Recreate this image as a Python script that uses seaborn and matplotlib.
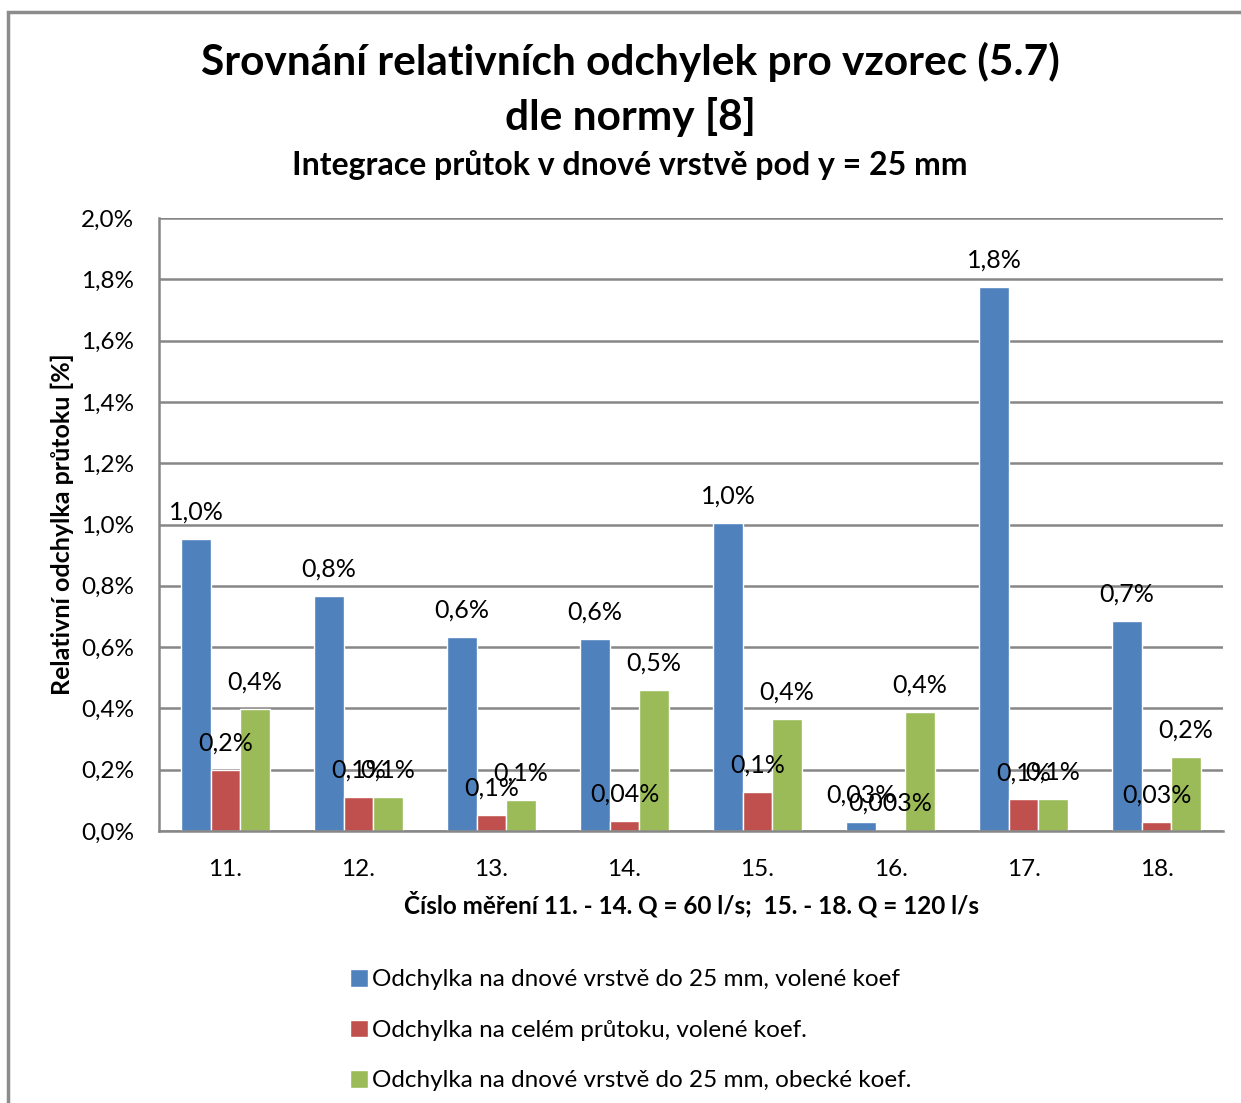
import matplotlib
matplotlib.use("Agg")
import matplotlib.pyplot as plt
from matplotlib.patches import Rectangle
from matplotlib.ticker import FuncFormatter, FixedLocator
import seaborn as sns
import pandas as pd

# data (values in %)
measurements = ["11.", "12.", "13.", "14.", "15.", "16.", "17.", "18."]
series_names = [
    "Odchylka na dnové vrstvě do 25 mm, volené koef",
    "Odchylka na celém průtoku, volené koef.",
    "Odchylka na dnové vrstvě do 25 mm, obecké koef.",
]
blue_vals = [0.953, 0.767, 0.633, 0.626, 1.005, 0.029, 1.775, 0.685]
red_vals = [0.199, 0.111, 0.052, 0.034, 0.128, 0.003, 0.103, 0.030]
green_vals = [0.398, 0.111, 0.101, 0.460, 0.366, 0.389, 0.104, 0.241]
blue_labels = ["1,0%", "0,8%", "0,6%", "0,6%", "1,0%", "0,03%", "1,8%", "0,7%"]
red_labels = ["0,2%", "0,1%", "0,1%", "0,04%", "0,1%", "0,003%", "0,1%", "0,03%"]
green_labels = ["0,4%", "0,1%", "0,1%", "0,5%", "0,4%", "0,4%", "0,1%", "0,2%"]
colors = ["#4F81BD", "#C0504D", "#9BBB59"]

df = pd.DataFrame({
    "mereni": measurements * 3,
    "serie": [series_names[0]] * 8 + [series_names[1]] * 8 + [series_names[2]] * 8,
    "hodnota": blue_vals + red_vals + green_vals,
})

sns.set_theme(style="white")
plt.rcParams["font.family"] = ["Lato", "DejaVu Sans"]
plt.rcParams["text.color"] = "black"
plt.rcParams["axes.labelcolor"] = "black"

W, H = 1241, 1103
fig = plt.figure(figsize=(W / 100, H / 100), dpi=100)
ax = fig.add_axes([159 / W, 1 - 831 / H, (1223 - 159) / W, (831 - 218) / H])

sns.barplot(data=df, x="mereni", y="hodnota", hue="serie", hue_order=series_names,
            palette=colors, saturation=1, width=0.665, gap=0, ax=ax, legend=True)

grid_c = "#878787"
ax.set_ylim(0, 2.0)
ax.set_xlim(-0.5, 7.5)
ax.set_yticks([i * 0.2 for i in range(11)])
ax.yaxis.set_major_formatter(FuncFormatter(lambda v, p: f"{v:.1f}".replace(".", ",") + "%"))
ax.yaxis.grid(True, color=grid_c, linewidth=1.8)
ax.set_axisbelow(True)
for s in ["top", "right"]:
    ax.spines[s].set_visible(False)
for s in ["left", "bottom"]:
    ax.spines[s].set_color(grid_c)
    ax.spines[s].set_linewidth(1.8)
ax.tick_params(axis="y", which="major", length=6, width=1.8, color=grid_c,
               labelcolor="black", labelsize=17.5, pad=12)
ax.tick_params(axis="x", which="major", length=0, labelcolor="black", labelsize=17.5, pad=20)
ax.xaxis.set_minor_locator(FixedLocator([i - 0.5 for i in range(9)]))
ax.tick_params(axis="x", which="minor", length=7, width=1.8, color=grid_c, direction="out")

for cont, labs in zip(ax.containers, [blue_labels, red_labels, green_labels]):
    ax.bar_label(cont, labels=labs, padding=11, fontsize=18)

ax.set_ylabel("Relativní odchylka průtoku [%]", fontsize=18, fontweight="bold", labelpad=5)
ax.set_xlabel("Číslo měření 11. - 14. Q = 60 l/s;  15. - 18. Q = 120 l/s",
              fontsize=17.5, fontweight="bold", labelpad=8)

fig.text(630 / W, 1 - 62 / H, "Srovnání relativních odchylek pro vzorec (5.7)",
         ha="center", va="center", fontsize=30.5, fontweight="bold")
fig.text(630 / W, 1 - 117 / H, "dle normy [8]",
         ha="center", va="center", fontsize=30.5, fontweight="bold")
fig.text(630 / W, 1 - 165 / H, "Integrace průtok v dnové vrstvě pod y = 25 mm",
         ha="center", va="center", fontsize=23, fontweight="bold")

handles, labels = ax.get_legend_handles_labels()
ax.get_legend().remove()
fig.legend(handles, labels, loc="upper left", bbox_to_anchor=(350 / W, 1 - 969 / H),
           frameon=False, fontsize=17.5, handlelength=0.75, handleheight=0.75,
           handletextpad=0.15, labelspacing=1.2, borderpad=0, borderaxespad=0)

# outer chart frame (right and bottom sides lie outside the image)
fig.patches.append(Rectangle((8 / W, -0.2), 1.5, 1.2 - 12 / H,
                             transform=fig.transFigure, fill=False,
                             edgecolor="#8c8c8c", linewidth=2.5))

fig.savefig("out.png", dpi=100, facecolor="white")
